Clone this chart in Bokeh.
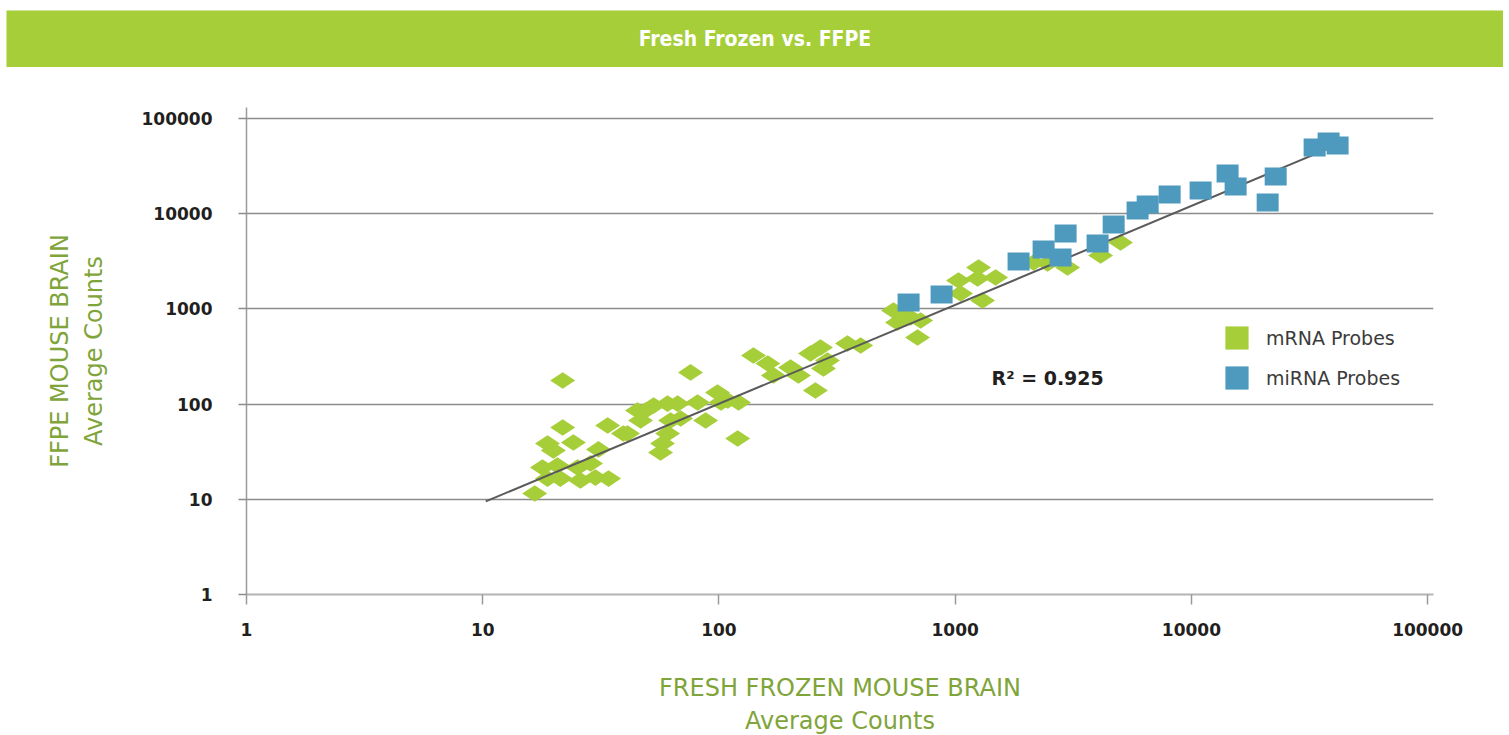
import math
from bokeh.plotting import figure
from bokeh.models import (ColumnDataSource, Range1d, Label, Legend, LegendItem,
                          NumeralTickFormatter, FixedTicker)
from bokeh.embed import file_html
from bokeh.resources import INLINE
from bokeh.core.properties import value

# ---------------- data ----------------
title_text = "Fresh Frozen vs. FFPE"
x_label = "FRESH FROZEN MOUSE BRAIN\nAverage Counts"
y_label = "FFPE MOUSE BRAIN\nAverage Counts"
r2_text = "R\u00b2 = 0.925"
series_names = ["mRNA Probes", "miRNA Probes"]
ticks = [1, 10, 100, 1000, 10000, 100000]

mrna_x = [16.6, 17.9, 18.8, 20.7, 21.3, 25.2, 25.9, 28.6, 30.0, 34.1,
          18.8, 19.9, 24.2, 21.8, 21.8, 30.9, 33.8, 39.4, 45.2, 46.6,
          52.9, 60.6, 66.8, 62.4, 68.8, 60.6, 57.7, 56.6, 75.8, 81.2,
          87.8, 98.6, 102, 121, 120, 140, 161, 170, 201, 217,
          244, 269, 288, 277, 256, 350, 398, 548, 570, 647,
          714, 693, 1033, 1054, 1256, 1244, 1483, 1306, 2148, 2461,
          2992, 4128, 5012, 41.0, 48.9, 109, 617]
mrna_y = [11.5, 21.6, 16.5, 22.6, 16.5, 21.6, 15.8, 23.8, 16.9, 16.5,
          38.6, 32.6, 39.5, 56.8, 177, 33.4, 59.6, 49.1, 85.7, 67.3,
          96.7, 101, 101, 67.3, 70.6, 49.1, 38.6, 31.0, 215, 104,
          67.3, 132, 104, 104, 43.5, 324, 267, 200, 242, 200,
          340, 393, 287, 237, 139, 433, 413, 962, 720, 812,
          755, 501, 1987, 1452, 2722, 2085, 2138, 1225, 3072, 3000,
          2722, 3639, 4980, 49.1, 85.7, 109, 793]

mirna_x = [635, 876, 1855, 2368, 2793, 2934, 4008, 4688, 5919, 6530,
           8090, 10940, 14230, 15390, 21030, 22740, 33240, 38100, 41580]
mirna_y = [1167, 1417, 3148, 4207, 3467, 6194, 4864, 7706, 10810, 12500,
           15900, 17530, 26430, 19300, 13120, 24600, 49590, 57300, 52000]

trend_x = [10.3, 40800]
trend_y = [9.5, 52000]
r2_pos = (1426, 190)

# ---------------- style ----------------
GREEN = "#A6CE39"
BLUE = "#4E99BE"
LABEL_GREEN = "#7FA43A"
DARK = "#231F20"
FONT = "DejaVu Sans"

FRAME_L, FRAME_W, FRAME_H = 246, 1187, 487
FIG_W = 1503

# ---------------- title bar (own root, so it is not aligned to the plot frame) ----------------
tf = figure(width=1497, height=57, x_range=Range1d(0, 1), y_range=Range1d(0, 1),
            x_axis_type=None, y_axis_type=None, toolbar_location=None,
            output_backend="svg", min_border=0, margin=(10, 0, 0, 6))
tf.grid.visible = False
tf.outline_line_color = None
tf.background_fill_color = GREEN
tf.border_fill_color = GREEN
tf.text(x=[0.5], y=[0.5], text=[title_text], text_color="white",
        text_font=value("DejaVu Sans Condensed"),
        text_font_style="bold", text_font_size="21px",
        text_align="center", text_baseline="middle")

# ---------------- main plot ----------------
p = figure(frame_width=FRAME_W, frame_height=FRAME_H,
           x_axis_type="log", y_axis_type="log",
           x_range=Range1d(1, 105900), y_range=Range1d(1, 130500),
           min_border_left=FRAME_L, min_border_right=FIG_W - FRAME_L - FRAME_W,
           min_border_top=40, min_border_bottom=135,
           toolbar_location=None, output_backend="svg")
p.outline_line_color = None
p.xgrid.visible = False
p.ygrid.grid_line_color = "#8C8C8C"
p.ygrid.grid_line_width = 1.5
p.ygrid.minor_grid_line_color = None

for ax in (p.xaxis[0], p.yaxis[0]):
    ax.ticker = FixedTicker(ticks=ticks)
    ax.formatter = NumeralTickFormatter(format="0")
    ax.minor_tick_line_color = None
    ax.major_tick_in = 0
    ax.major_label_text_font = FONT
    ax.major_label_text_font_style = "bold"
    ax.major_label_text_font_size = "17px"
    ax.major_label_text_color = DARK
    ax.axis_label_text_font = FONT
    ax.axis_label_text_font_style = "normal"
    ax.axis_label_text_font_size = "24px"
    ax.axis_label_text_color = LABEL_GREEN

p.xaxis.axis_label = x_label
p.yaxis.axis_label = y_label
p.xaxis.axis_line_color = "#B4B4B4"
p.xaxis.axis_line_width = 2
p.xaxis.major_tick_line_color = "#9A9A9A"
p.xaxis.major_tick_line_width = 1.5
p.xaxis.major_tick_out = 10
p.xaxis.major_label_standoff = 18
p.xaxis.axis_label_standoff = 35
p.yaxis.axis_line_color = "#9A9A9A"
p.yaxis.axis_line_width = 1.5
p.yaxis.major_tick_line_color = "#8C8C8C"
p.yaxis.major_tick_line_width = 1.5
p.yaxis.major_tick_out = 8
p.yaxis.major_label_standoff = 26
p.yaxis.axis_label_standoff = 31

src_m = ColumnDataSource(dict(x=mrna_x, y=mrna_y))
src_mi = ColumnDataSource(dict(x=mirna_x, y=mirna_y))

p.scatter("x", "y", source=src_m, marker="diamond", size=25, angle=math.pi / 2,
          fill_color=GREEN, line_color=None)
p.line(trend_x, trend_y, line_color="#5A5A5A", line_width=2)
p.rect("x", "y", source=src_mi, width=22, height=18,
       width_units="screen", height_units="screen",
       fill_color=BLUE, line_color=None)

# legend swatches (zero-size rects on the real sources, only used for the legend)
leg_m = p.rect("x", "y", source=src_m, width=0, height=0,
               width_units="screen", height_units="screen",
               fill_color=GREEN, line_color=None)
leg_mi = p.rect("x", "y", source=src_mi, width=0, height=0,
                width_units="screen", height_units="screen",
                fill_color=BLUE, line_color=None)
legend = Legend(items=[LegendItem(label=series_names[0], renderers=[leg_m]),
                       LegendItem(label=series_names[1], renderers=[leg_mi])],
                location=(976, 202), orientation="vertical",
                glyph_width=29, glyph_height=29, label_standoff=15, spacing=11,
                padding=0, margin=0, border_line_color=None,
                background_fill_alpha=0,
                label_text_font=FONT, label_text_font_size="19px",
                label_text_color="#3B3B3B", label_text_baseline="middle")
p.add_layout(legend)

p.add_layout(Label(x=r2_pos[0], y=r2_pos[1], text=r2_text, text_font=FONT,
                   text_font_style="bold", text_font_size="19px", text_color=DARK,
                   text_align="left", text_baseline="middle"))

open("out.html", "w").write(file_html([tf, p], INLINE))
